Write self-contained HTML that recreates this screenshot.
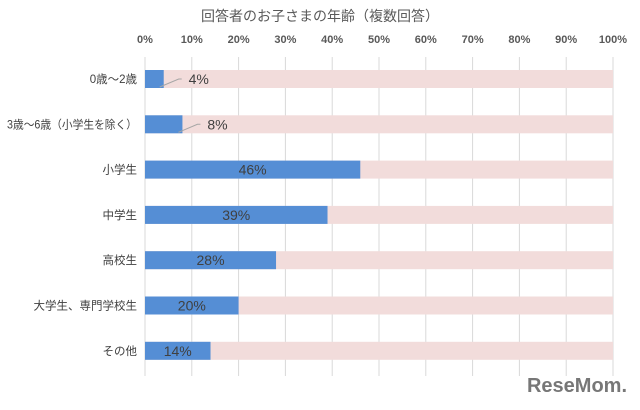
<!DOCTYPE html>
<html><head><meta charset="utf-8"><style>
body{margin:0;background:#fff;}
svg{display:block;font-family:"Liberation Sans","Noto Sans CJK JP",sans-serif;}
</style></head><body>
<svg width="640" height="410" id="c">
<text x="320" y="21" text-anchor="middle" font-size="14" fill="#595959">回答者のお子さまの年齢（複数回答）</text>
<g id="grid"></g><g id="bars"></g>
<text x="627" y="392" text-anchor="end" font-size="20" font-weight="bold" fill="#777">ReseMom.</text>
</svg>
<script>
const categories=["0歳～2歳","3歳～6歳（小学生を除く）","小学生","中学生","高校生","大学生、専門学校生","その他"];
const values=[4,8,46,39,28,20,14];
const ticks=[0,10,20,30,40,50,60,70,80,90,100];
const NS="http://www.w3.org/2000/svg";
const x0=145,x1=613,top0=79,step=45.3,bh=18;
const xs=v=>x0+(x1-x0)*v/100;
const g=document.getElementById('grid'),b=document.getElementById('bars');
function mk(tag,attrs,parent,txt){const e=document.createElementNS(NS,tag);for(const k in attrs)e.setAttribute(k,attrs[k]);if(txt!=null)e.textContent=txt;parent.appendChild(e);return e;}
ticks.forEach(t=>{
 const l=mk('line',{x1:xs(t),x2:xs(t),y1:57,y2:376,stroke:'#d9d9d9'},g);
 
 
 const tx=mk('text',{x:xs(t),y:43,'text-anchor':'middle','font-size':11,'font-weight':'bold',fill:'#595959'},g,t+'%');
 
 
});
categories.forEach((c,i)=>{
 const cy=top0+i*step,v=values[i];
 const bg=mk('rect',{x:x0,y:cy-bh/2,width:xs(100)-x0,height:bh,fill:'#f2dcdb'},b);
 
 
 const r=mk('rect',{x:x0,y:cy-bh/2,width:xs(v)-x0,height:bh,fill:'#558ed5'},b);
 
 
 const lb=mk('text',{x:137,y:cy+4,'text-anchor':'end','font-size':11.5,fill:'#404040'},b,c);
 if(c.length>10){lb.setAttribute('textLength',130);lb.setAttribute('lengthAdjust','spacingAndGlyphs');}
 
 
 let lx;
 if(v<10){
  const ex=xs(v);
  const ll=mk('polyline',{points:`${ex-4},${cy+8} ${ex+15},${cy} ${ex+18},${cy}`,fill:'none',stroke:'#a6a6a6'},b);
  
  
  lx=ex+35;
 } else lx=(x0+xs(v))/2;
 const vt=mk('text',{x:lx,y:cy+5,'text-anchor':'middle','font-size':14,fill:'#404040'},b,v+'%');
 
 
});
</script>
</body></html>
